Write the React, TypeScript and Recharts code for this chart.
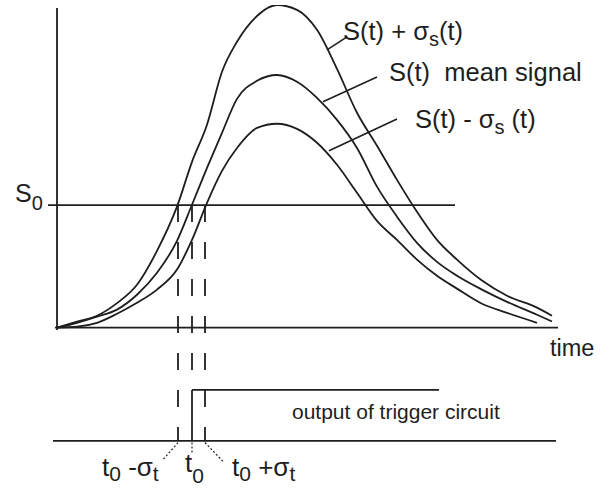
import React from 'react';
import { ComposedChart, Line, XAxis, YAxis, ReferenceLine, ReferenceDot } from 'recharts';

// time grid (arbitrary time units) and signal values (arbitrary units, peak of S+σ = 100)
const timeGrid = [0, 4, 8, 12, 16, 20, 24, 27, 30, 33, 36, 40, 44, 48, 52, 56, 60, 64, 68, 72, 76, 80, 85, 90, 96, 99];
const upperSignal = [0, 1.9, 3.7, 7.6, 13.3, 23.8, 37.5, 51.4, 62.9, 79.3, 88.6, 96.6, 100, 98.5, 92.3, 80.2, 66.6, 56.4, 45.8, 35.9, 27.2, 21.1, 14.6, 9.9, 6.2, 3.7];
const meanSignal = [0, 1.5, 3.4, 5.6, 10.2, 17.0, 26.9, 38.1, 49.5, 60.4, 70.9, 76.5, 78.3, 76.2, 71.2, 64.4, 55.7, 43.7, 34.4, 26.3, 20.4, 16.1, 11.8, 8.0, 4.0, 1.9];
const lowerSignal = [0, 0.3, 1.5, 4.3, 7.7, 11.8, 18.0, 27.2, 38.7, 48.6, 55.7, 61.9, 63.2, 61.6, 57.3, 50.5, 41.8, 33.1, 27.2, 21.1, 16.1, 12.1, 7.4, 4.6, 1.5, null];

const threshold = 38.0; // S0
const crossingTimes = [24.2, 27, 29.6]; // t0-σt, t0, t0+σt
const triggerLow = -35.1;
const triggerHigh = -19.3;
const triggerEnd = 76.4;

const curveData = timeGrid.map((t, i) => ({
  t,
  upper: upperSignal[i],
  mean: meanSignal[i],
  lower: lowerSignal[i],
}));

const INK = '#1e1e1e';
const FONT = '"Liberation Sans", Arial, Helvetica, sans-serif';

type Part = { s: string; sub?: boolean };

function makeText(parts: Part[], size: number, subSize: number, shift: number) {
  return (props: any) => {
    const { cx, cy } = props;
    let cur = 0;
    return (
      <text x={cx} y={cy} fontFamily={FONT} fontSize={size} fill={INK}>
        {parts.map((p, i) => {
          const target = p.sub ? shift : 0;
          const dy = target - cur;
          cur = target;
          return (
            <tspan key={i} dy={dy} fontSize={p.sub ? subSize : size} style={{ whiteSpace: 'pre' }}>
              {p.s}
            </tspan>
          );
        })}
      </text>
    );
  };
}

const seg = (x1: number, y1: number, x2: number, y2: number) => [
  { x: x1, y: y1 },
  { x: x2, y: y2 },
];

export default function App() {
  return (
    <div style={{ position: 'absolute', left: 0, top: 0, width: 602, height: 489, background: '#fff' }}>
      <ComposedChart
        width={602}
        height={489}
        data={curveData}
        margin={{ top: 5, right: 5, bottom: 0, left: 7 }}
      >
        <XAxis dataKey="t" type="number" domain={[-10, 108]} allowDataOverflow hide />
        <YAxis type="number" domain={[-50, 100]} allowDataOverflow hide />

        {/* axes */}
        <ReferenceLine segment={seg(0, -0.7, 0, 99.1)} stroke={INK} strokeWidth={1.8} ifOverflow="visible" />
        <ReferenceLine segment={seg(-0.4, 0, 100.2, 0)} stroke={INK} strokeWidth={1.8} ifOverflow="visible" />
        {/* threshold S0 */}
        <ReferenceLine segment={seg(-1.8, threshold, 79.6, threshold)} stroke={INK} strokeWidth={1.8} ifOverflow="visible" />
        {/* trigger baseline and step */}
        <ReferenceLine segment={seg(-0.8, triggerLow, 99.8, triggerLow)} stroke={INK} strokeWidth={1.8} ifOverflow="visible" />
        <ReferenceLine segment={seg(crossingTimes[1], triggerLow, crossingTimes[1], triggerHigh)} stroke={INK} strokeWidth={1.8} ifOverflow="visible" />
        <ReferenceLine segment={seg(crossingTimes[1], triggerHigh, triggerEnd, triggerHigh)} stroke={INK} strokeWidth={1.8} ifOverflow="visible" />

        {/* dashed crossing lines */}
        <ReferenceLine segment={seg(crossingTimes[0], threshold, crossingTimes[0], triggerLow)} stroke={INK} strokeWidth={1.8} strokeDasharray="17 20" ifOverflow="visible" />
        <ReferenceLine segment={seg(crossingTimes[1], threshold, crossingTimes[1], triggerHigh)} stroke={INK} strokeWidth={1.8} strokeDasharray="17 20" ifOverflow="visible" />
        <ReferenceLine segment={seg(crossingTimes[2], threshold, crossingTimes[2], triggerLow)} stroke={INK} strokeWidth={1.8} strokeDasharray="17 20" ifOverflow="visible" />

        {/* dotted connectors to labels */}
        <ReferenceLine segment={seg(crossingTimes[0], -35.6, 21.2, -40.9)} stroke={INK} strokeWidth={1.2} strokeDasharray="2 2" ifOverflow="visible" />
        <ReferenceLine segment={seg(crossingTimes[1], -35.6, crossingTimes[1], -39.3)} stroke={INK} strokeWidth={1.2} strokeDasharray="2 2" ifOverflow="visible" />
        <ReferenceLine segment={seg(crossingTimes[2], -35.6, 33.4, -41.8)} stroke={INK} strokeWidth={1.2} strokeDasharray="2 2" ifOverflow="visible" />

        {/* leader lines of curve annotations */}
        <ReferenceLine segment={seg(54, 86.1, 58, 90.1)} stroke={INK} strokeWidth={1.6} ifOverflow="visible" />
        <ReferenceLine segment={seg(53.2, 70.0, 64, 77.7)} stroke={INK} strokeWidth={1.6} ifOverflow="visible" />
        <ReferenceLine segment={seg(54.4, 54.8, 68, 64.7)} stroke={INK} strokeWidth={1.6} ifOverflow="visible" />

        {/* curves */}
        <Line dataKey="upper" type="monotone" stroke={INK} strokeWidth={1.8} dot={false} activeDot={false} isAnimationActive={false} />
        <Line dataKey="mean" type="monotone" stroke={INK} strokeWidth={1.8} dot={false} activeDot={false} isAnimationActive={false} />
        <Line dataKey="lower" type="monotone" stroke={INK} strokeWidth={1.8} dot={false} activeDot={false} isAnimationActive={false} />

        {/* text labels */}
        <ReferenceDot x={57.2} y={89.2} r={0} ifOverflow="visible"
          shape={makeText([{ s: 'S(t) + σ' }, { s: 's', sub: true }, { s: '(t)' }], 25.5, 20, 6)} />
        <ReferenceDot x={66.4} y={76.4} r={0} ifOverflow="visible"
          shape={makeText([{ s: 'S(t)  mean signal' }], 25.5, 20, 6)} />
        <ReferenceDot x={71.6} y={61.9} r={0} ifOverflow="visible"
          shape={makeText([{ s: 'S(t) - σ' }, { s: 's', sub: true }, { s: ' (t)' }], 25.5, 20, 6)} />
        <ReferenceDot x={-8.4} y={38.95} r={0} ifOverflow="visible"
          shape={makeText([{ s: 'S' }, { s: '0', sub: true }], 25, 20, 8)} />
        <ReferenceDot x={98.6} y={-8.8} r={0} ifOverflow="visible"
          shape={makeText([{ s: 'time' }], 23.5, 16, 6)} />
        <ReferenceDot x={47} y={-28.3} r={0} ifOverflow="visible"
          shape={makeText([{ s: 'output of trigger circuit' }], 21, 14, 6)} />
        <ReferenceDot x={9} y={-46.0} r={0} ifOverflow="visible"
          shape={makeText([{ s: 't' }, { s: '0', sub: true }, { s: ' -σ' }, { s: 't', sub: true }], 26, 21, 5)} />
        <ReferenceDot x={25.6} y={-44.7} r={0} ifOverflow="visible"
          shape={makeText([{ s: 't' }, { s: '0', sub: true }], 26, 21, 11)} />
        <ReferenceDot x={35.0} y={-46.0} r={0} ifOverflow="visible"
          shape={makeText([{ s: 't' }, { s: '0', sub: true }, { s: ' +σ' }, { s: 't', sub: true }], 26, 21, 5)} />
      </ComposedChart>
    </div>
  );
}
